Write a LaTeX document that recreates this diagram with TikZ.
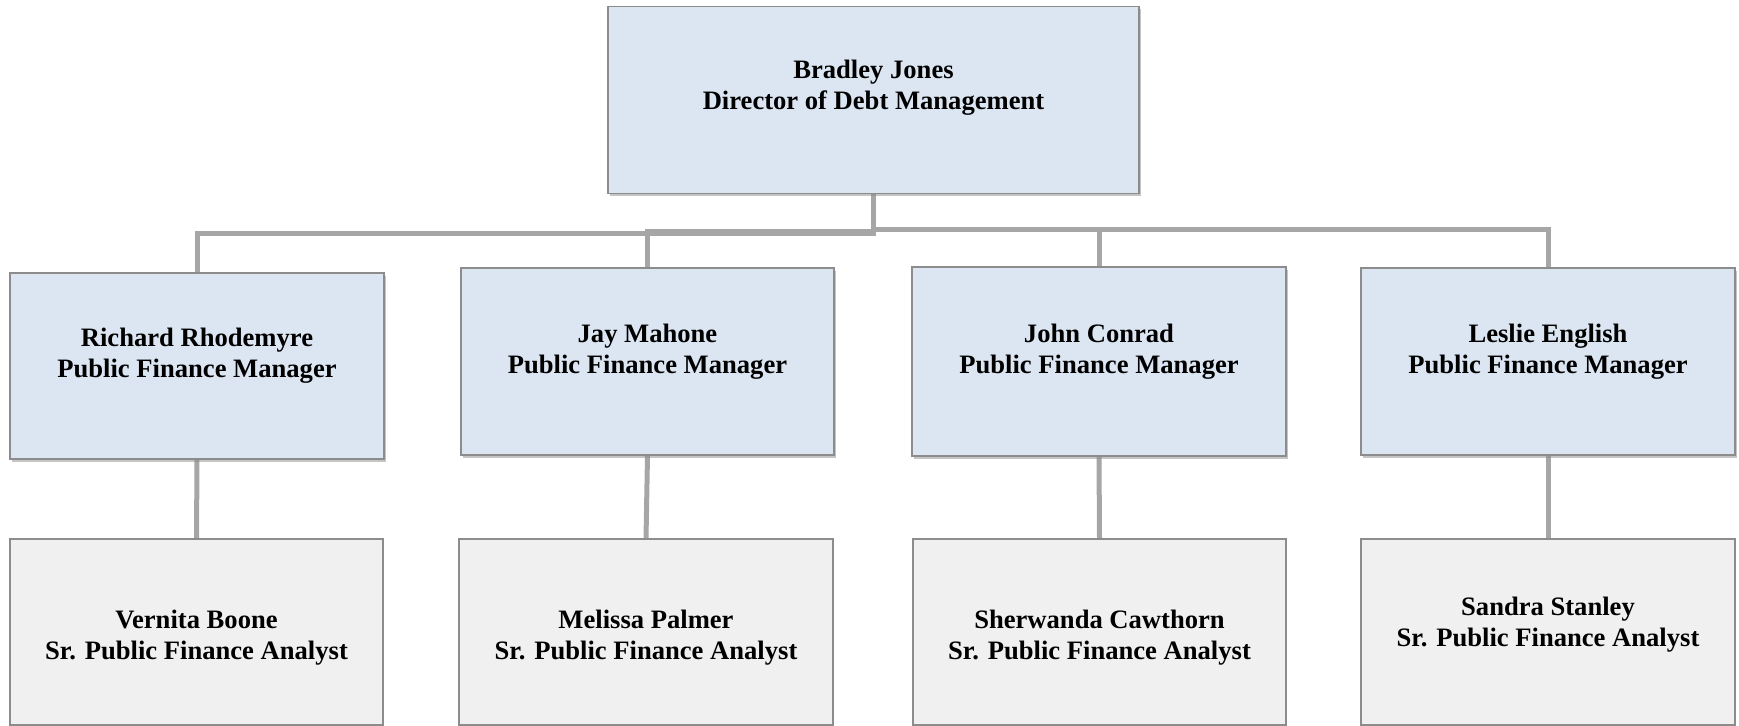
\documentclass[tikz,border=0pt]{standalone}
\usepackage{fontspec}
\setmainfont{Liberation Serif}
\usetikzlibrary{shadows,backgrounds}
\definecolor{mgrfill}{HTML}{DCE6F2}
\definecolor{anafill}{HTML}{F0F0F0}
\definecolor{edgecol}{HTML}{8C8C8C}
\definecolor{conncol}{HTML}{A6A6A6}
\tikzset{
  boxbase/.style={draw=edgecol, line width=0.6pt, inner sep=0pt, outer sep=0pt, rectangle},
  mgr/.style={boxbase, fill=mgrfill, drop shadow={shadow xshift=1.2pt, shadow yshift=-1.4pt, fill=black!45, opacity=0.5}},
  ana/.style={boxbase, fill=anafill},
  lbl/.style={align=center, inner sep=0pt, font=\fontsize{13.3pt}{15.5pt}\selectfont\bfseries},
  conn/.style={draw=conncol, line width=2.5pt}
}
\begin{document}
\begin{tikzpicture}[x=0.5pt, y=-0.5pt]
\useasboundingbox (0,0) rectangle (1739,726);
% top
\node[mgr, minimum width=265.5pt, minimum height=93.5pt] (top) at (873.5,100) {};
\node[lbl] (ttop) at (873.5,88) {Bradley Jones\\Director of Debt Management};
% managers
\node[mgr, minimum width=187pt, minimum height=93pt] (m1) at (197,366) {};
\node[lbl] (tm1) at (197,355.5) {Richard Rhodemyre\\Public Finance Manager};
\node[mgr, minimum width=186.5pt, minimum height=93.5pt] (m2) at (647.5,361.5) {};
\node[lbl] (tm2) at (647.5,351.5) {Jay Mahone\\Public Finance Manager};
\node[mgr, minimum width=187pt, minimum height=94.5pt] (m3) at (1099,361.5) {};
\node[lbl] (tm3) at (1099,351.5) {John Conrad\\Public Finance Manager};
\node[mgr, minimum width=187pt, minimum height=93.5pt] (m4) at (1548,361.5) {};
\node[lbl] (tm4) at (1548,351.5) {Leslie English\\Public Finance Manager};
% analysts
\node[ana, minimum width=186.5pt, minimum height=93pt] (a1) at (196.5,632) {};
\node[lbl] (ta1) at (196.5,637.5) {Vernita Boone\\Sr. Public Finance Analyst};
\node[ana, minimum width=187pt, minimum height=93pt] (a2) at (646,632) {};
\node[lbl] (ta2) at (646,637.5) {Melissa Palmer\\Sr. Public Finance Analyst};
\node[ana, minimum width=186.5pt, minimum height=93pt] (a3) at (1099.5,632) {};
\node[lbl] (ta3) at (1099.5,637.5) {Sherwanda Cawthorn\\Sr. Public Finance Analyst};
\node[ana, minimum width=187pt, minimum height=93pt] (a4) at (1548,632) {};
\node[lbl] (ta4) at (1548,624.5) {Sandra Stanley\\Sr. Public Finance Analyst};
% connectors
\begin{scope}[on background layer]
\draw[conn] (top.south) -- (top.south |- 0,234) -| (m1.north);
\draw[conn] (top.south) -- (top.south |- 0,232) -| (m2.north);
\draw[conn] (top.south) -- (top.south |- 0,230) -| (m3.north);
\draw[conn] (top.south) -- (top.south |- 0,230) -| (m4.north);
\draw[conn] (m1.south) -- (a1.north);
\draw[conn] (m2.south) -- (a2.north);
\draw[conn] (m3.south) -- (a3.north);
\draw[conn] (m4.south) -- (a4.north);
\end{scope}
\end{tikzpicture}
\end{document}
